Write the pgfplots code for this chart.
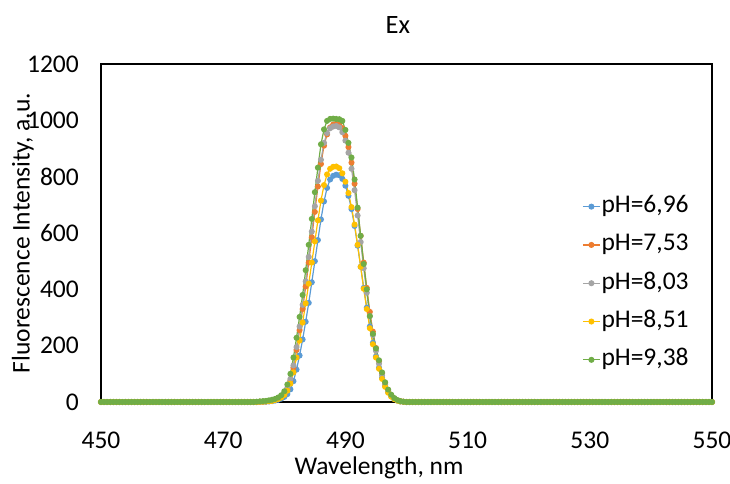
\documentclass[border=0pt]{standalone}
\usepackage{pgfplots}
\pgfplotsset{compat=1.18}
\usepackage{pgfplotstable}
\usepackage{fontspec}
\setmainfont{Carlito}
\definecolor{cB}{HTML}{5B9BD5}
\definecolor{cO}{HTML}{ED7D31}
\definecolor{cG}{HTML}{A5A5A5}
\definecolor{cY}{HTML}{FFC000}
\definecolor{cN}{HTML}{70AD47}
\pgfplotstableread{
x b o g y n
450.0 0 0 0 0 0
450.5 0 0 0 0 0
451.0 0 0 0 0 0
451.5 0 0 0 0 0
452.0 0 0 0 0 0
452.5 0 0 0 0 0
453.0 0 0 0 0 0
453.5 0 0 0 0 0
454.0 0 0 0 0 0
454.5 0 0 0 0 0
455.0 0 0 0 0 0
455.5 0 0 0 0 0
456.0 0 0 0 0 0
456.5 0 0 0 0 0
457.0 0 0 0 0 0
457.5 0 0 0 0 0
458.0 0 0 0 0 0
458.5 0 0 0 0 0
459.0 0 0 0 0 0
459.5 0 0 0 0 0
460.0 0 0 0 0 0
460.5 0 0 0 0 0
461.0 0 0 0 0 0
461.5 0 0 0 0 0
462.0 0 0 0 0 0
462.5 0 0 0 0 0
463.0 0 0 0 0 0
463.5 0 0 0 0 0
464.0 0 0 0 0 0
464.5 0 0 0 0 0
465.0 0 0 0 0 0
465.5 0 0 0 0 0
466.0 0 0 0 0 0
466.5 0 0 0 0 0
467.0 0 0 0 0 0
467.5 0 0 0 0 0
468.0 0 0 0 0 0
468.5 0 0 0 0 0
469.0 0 0 0 0 0
469.5 0 0 0 0 0
470.0 0 0 0 0 0
470.5 0 0 0 0 0
471.0 0 0 0 0 0
471.5 0 0 0 0 0
472.0 0 0 0 0 0
472.5 0 0 0 0 0
473.0 0 0 0 0 0
473.5 0 0 0 0 0
474.0 0 0 0 0 0
474.5 0 0 0 0 0
475.0 0 0 0 0 0
475.5 0 0 0 0 1
476.0 1 1 1 1 2
476.5 1 1 1 1 3
477.0 1 2 2 2 4
477.5 2 3 3 3 6
478.0 3 5 5 4 8
478.5 5 8 8 7 11
479.0 8 12 13 11 16
479.5 12 18 20 16 24
480.0 18 28 31 25 38
480.5 28 46 50 40 62
481.0 45 76 82 65 100
481.5 74 122 130 105 158
482.0 115 185 195 158 228
482.5 165 255 268 218 302
483.0 222 330 345 282 380
483.5 285 410 428 350 468
484.0 352 495 515 420 558
484.5 425 585 605 495 650
485.0 500 675 695 570 745
485.5 575 765 785 645 832
486.0 648 845 860 715 915
486.5 712 910 920 770 968
487.0 760 950 955 808 998
487.5 790 975 972 828 1005
488.0 803 985 978 835 1006
488.5 807 988 980 836 1005
489.0 805 986 975 830 1004
489.5 792 972 958 812 998
490.0 768 945 928 782 966
490.5 732 905 885 742 920
491.0 685 850 828 692 868
491.5 625 775 752 630 790
492.0 555 685 662 558 690
492.5 480 590 568 480 590
493.0 405 495 475 402 490
493.5 335 405 388 330 400
494.0 268 320 305 262 305
494.5 210 250 238 205 242
495.0 162 192 182 158 190
495.5 122 145 136 118 148
496.0 86 102 95 82 105
496.5 57 68 62 54 70
497.0 35 42 38 33 44
497.5 20 24 22 19 26
498.0 11 13 12 10 14
498.5 5 6 6 5 7
499.0 2 3 2 2 3
499.5 1 1 1 1 1
500.0 0 0 0 0 0
500.5 0 0 0 0 0
501.0 0 0 0 0 0
501.5 0 0 0 0 0
502.0 0 0 0 0 0
502.5 0 0 0 0 0
503.0 0 0 0 0 0
503.5 0 0 0 0 0
504.0 0 0 0 0 0
504.5 0 0 0 0 0
505.0 0 0 0 0 0
505.5 0 0 0 0 0
506.0 0 0 0 0 0
506.5 0 0 0 0 0
507.0 0 0 0 0 0
507.5 0 0 0 0 0
508.0 0 0 0 0 0
508.5 0 0 0 0 0
509.0 0 0 0 0 0
509.5 0 0 0 0 0
510.0 0 0 0 0 0
510.5 0 0 0 0 0
511.0 0 0 0 0 0
511.5 0 0 0 0 0
512.0 0 0 0 0 0
512.5 0 0 0 0 0
513.0 0 0 0 0 0
513.5 0 0 0 0 0
514.0 0 0 0 0 0
514.5 0 0 0 0 0
515.0 0 0 0 0 0
515.5 0 0 0 0 0
516.0 0 0 0 0 0
516.5 0 0 0 0 0
517.0 0 0 0 0 0
517.5 0 0 0 0 0
518.0 0 0 0 0 0
518.5 0 0 0 0 0
519.0 0 0 0 0 0
519.5 0 0 0 0 0
520.0 0 0 0 0 0
520.5 0 0 0 0 0
521.0 0 0 0 0 0
521.5 0 0 0 0 0
522.0 0 0 0 0 0
522.5 0 0 0 0 0
523.0 0 0 0 0 0
523.5 0 0 0 0 0
524.0 0 0 0 0 0
524.5 0 0 0 0 0
525.0 0 0 0 0 0
525.5 0 0 0 0 0
526.0 0 0 0 0 0
526.5 0 0 0 0 0
527.0 0 0 0 0 0
527.5 0 0 0 0 0
528.0 0 0 0 0 0
528.5 0 0 0 0 0
529.0 0 0 0 0 0
529.5 0 0 0 0 0
530.0 0 0 0 0 0
530.5 0 0 0 0 0
531.0 0 0 0 0 0
531.5 0 0 0 0 0
532.0 0 0 0 0 0
532.5 0 0 0 0 0
533.0 0 0 0 0 0
533.5 0 0 0 0 0
534.0 0 0 0 0 0
534.5 0 0 0 0 0
535.0 0 0 0 0 0
535.5 0 0 0 0 0
536.0 0 0 0 0 0
536.5 0 0 0 0 0
537.0 0 0 0 0 0
537.5 0 0 0 0 0
538.0 0 0 0 0 0
538.5 0 0 0 0 0
539.0 0 0 0 0 0
539.5 0 0 0 0 0
540.0 0 0 0 0 0
540.5 0 0 0 0 0
541.0 0 0 0 0 0
541.5 0 0 0 0 0
542.0 0 0 0 0 0
542.5 0 0 0 0 0
543.0 0 0 0 0 0
543.5 0 0 0 0 0
544.0 0 0 0 0 0
544.5 0 0 0 0 0
545.0 0 0 0 0 0
545.5 0 0 0 0 0
546.0 0 0 0 0 0
546.5 0 0 0 0 0
547.0 0 0 0 0 0
547.5 0 0 0 0 0
548.0 0 0 0 0 0
548.5 0 0 0 0 0
549.0 0 0 0 0 0
549.5 0 0 0 0 0
550.0 0 0 0 0 0
}\datatable
\begin{document}
\begin{tikzpicture}[font=\fontsize{25.5bp}{30bp}\selectfont]
\begin{axis}[
  scale only axis,
  width=611bp, height=338bp,
  xmin=450, xmax=550, ymin=0, ymax=1200,
  xtick={450,470,...,550},
  ytick={0,200,...,1200},
  major tick length=0pt,
  /pgf/number format/assume math mode=true,
  /pgf/number format/1000 sep={},
  axis line style={line width=1.6bp, black},
  tick label style={font=\fontsize{25.5bp}{30bp}\selectfont},
  xticklabel style={anchor=center, inner sep=0pt, yshift=-38bp},
  yticklabel style={anchor=east, inner sep=0pt, xshift=-22bp},
  xlabel={Wavelength, nm},
  ylabel={Fluorescence Intensity, a.u.},
  label style={font=\fontsize{25.5bp}{30bp}\selectfont},
  xlabel style={at={(axis description cs:0.455,-0.1953)}, anchor=center, inner sep=0pt},
  ylabel style={at={(axis description cs:-0.1280,0.5)}, anchor=center, inner sep=0pt},
  title={Ex},
  title style={font=\fontsize{26.5bp}{30bp}\selectfont, at={(axis description cs:0.486,1.098)}, anchor=center, inner sep=0pt},
  legend cell align=left,
  legend style={at={(rel axis cs:0.7825,0.62)}, anchor=north west, draw=none, fill=none,
    font=\fontsize{25.5bp}{30bp}\selectfont,
    row sep=14.3bp, nodes={inner sep=1bp, text height=17bp, text depth=5bp}},
  every axis plot/.append style={line width=1.2bp, mark=*, mark size=2.4bp, mark options={solid}},
]
\addplot[color=cB] table[x=x,y=b]{\datatable};
\addlegendentry{pH=6,96}
\addplot[color=cO] table[x=x,y=o]{\datatable};
\addlegendentry{pH=7,53}
\addplot[color=cG] table[x=x,y=g]{\datatable};
\addlegendentry{pH=8,03}
\addplot[color=cY] table[x=x,y=y]{\datatable};
\addlegendentry{pH=8,51}
\addplot[color=cN] table[x=x,y=n]{\datatable};
\addlegendentry{pH=9,38}
\coordinate (bl) at (rel axis cs:0,0);
\coordinate (tr) at (rel axis cs:1,1);
\end{axis}
\pgfresetboundingbox
\path[use as bounding box] ([xshift=-101bp,yshift=-82bp]bl) rectangle ([xshift=18bp,yshift=64bp]tr);
\end{tikzpicture}
\end{document}
